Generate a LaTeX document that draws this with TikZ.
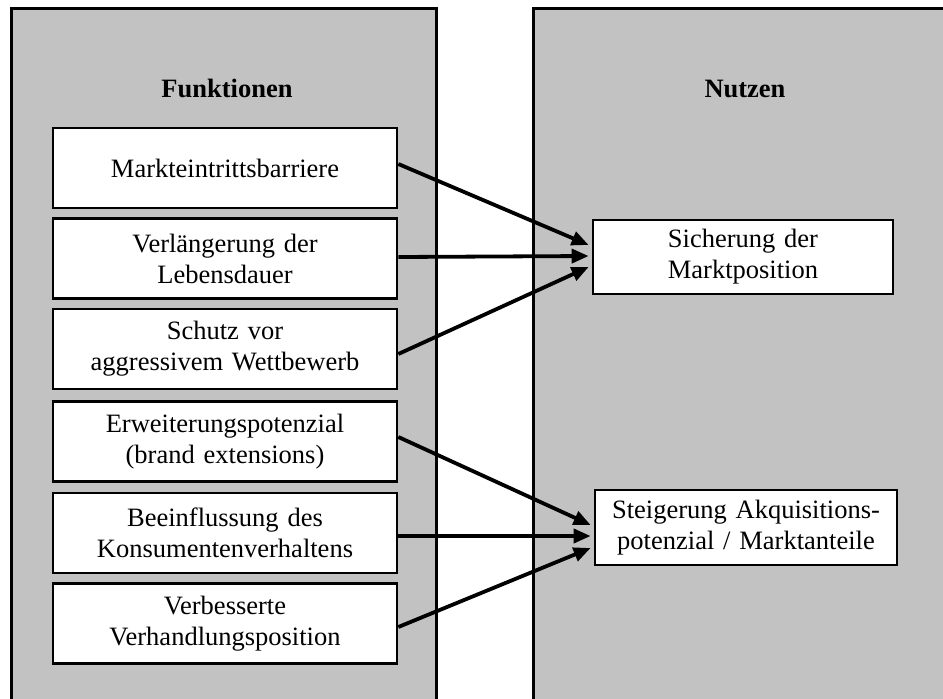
\documentclass[tikz,border=0pt]{standalone}
\usepackage{fontspec}
\setmainfont{Liberation Serif}
\usetikzlibrary{arrows.meta,calc}
\definecolor{panelgray}{RGB}{194,194,194}
\tikzset{
  panel/.style={draw=black, fill=panelgray, line width=2.5pt, anchor=north west, inner sep=0pt},
  title/.style={font=\fontsize{26.5}{31}\selectfont\bfseries, anchor=base},
  fbox/.style={draw=black, fill=white, line width=2.7pt, minimum width=344, minimum height=80,
    text width=330, align=center, inner sep=0pt, font=\fontsize{26.5}{31}\selectfont},
  nbox/.style={fbox, minimum width=300, minimum height=74, text width=290},
  link/.style={line width=3.8pt, -{Triangle[length=17pt,width=14pt]}}
}
\begin{document}
\begin{tikzpicture}[x=1pt, y=-1pt]
  \useasboundingbox (0,0) rectangle (943,699);

  % two grey columns, running past the lower edge
  \node[panel, minimum width=425, minimum height=720] (lp) at (10,7) {};
  \node[panel, minimum width=430, minimum height=720] (rp) at (532,7) {};

  \node[title] (tf) at (227,97) {Funktionen};
  \node[title] (tn) at (745,97) {Nutzen};

  % functions
  \node[fbox] (b1) at (225,168)   {Markteintrittsbarriere};
  \node[fbox] (b2) at (225,258.5) {Verlängerung der\\Lebensdauer};
  \node[fbox] (b3) at (225,349)   {Schutz vor\\aggressivem Wettbewerb};
  \node[fbox] (b4) at (225,441.5) {Erweiterungspotenzial\\(brand extensions)};
  \node[fbox] (b5) at (225,533)   {Beeinflussung des\\Konsumentenverhaltens};
  \node[fbox] (b6) at (225,623.5) {Verbesserte\\Verhandlungsposition};

  % benefits
  \node[nbox] (s1) at (743,257) {Sicherung der\\Marktposition};
  \node[nbox, minimum width=302, minimum height=75] (s2) at (746,527.5) {Steigerung Akquisitions-\\potenzial / Marktanteile};

  % connectors
  \draw[link] ($(b1.east)+(0,-4)$)   -- ($(s1.west)+(-3,-12)$);
  \draw[link] ($(b2.east)+(0,-1.5)$) -- ($(s1.west)+(-3,-1)$);
  \draw[link] ($(b3.east)+(0,5)$)    -- ($(s1.west)+(-3,10)$);
  \draw[link] ($(b4.east)+(0,-4.5)$) -- ($(s2.west)+(-3,-2.5)$);
  \draw[link] ($(b5.east)+(0,3)$)    -- ($(s2.west)+(-3,8.5)$);
  \draw[link] ($(b6.east)+(0,3.5)$)  -- ($(s2.west)+(-3,20.5)$);
\end{tikzpicture}
\end{document}
